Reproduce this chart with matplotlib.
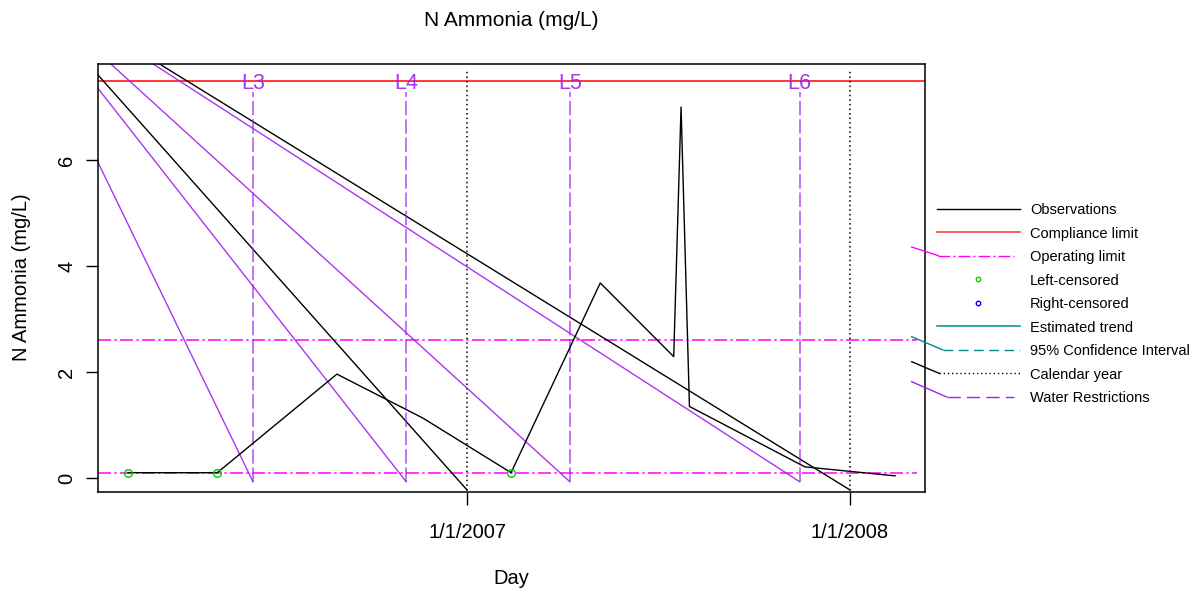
import numpy as np
import pandas as pd
import matplotlib
matplotlib.use('Agg')
import matplotlib.pyplot as plt
import matplotlib.dates as mdates
from matplotlib.lines import Line2D

plt.rcParams['font.family'] = ['Liberation Sans', 'DejaVu Sans']

# --- data ---
obs_dates = ['2006-02-12', '2006-05-08', '2006-08-30', '2006-11-20', '2007-02-12',
             '2007-05-08', '2007-07-17', '2007-07-24', '2007-08-01', '2007-11-19',
             '2008-02-13']
obs_values = [0.1, 0.1, 1.96, 1.13, 0.1, 3.68, 2.29, 7.0, 1.35, 0.21, 0.04]
left_censored = [True, True, False, False, True, False, False, False, False, False, False]

compliance_limit = 7.5
operating_limits = [2.6, 0.1]
operating_end = '2008-03-05'

restriction_dates = ['2006-06-11', '2006-11-04', '2007-04-09', '2007-11-14']
restriction_labels = ['L3', 'L4', 'L5', 'L6']
restriction_low = -0.07
restriction_high = 7.28
restriction_label_y = 7.45

calendar_years = ['2007-01-01', '2008-01-01']
calendar_top = 7.72
calendar_low = -0.226

# stray connector segments (start point of each, ending at the bottom of a vertical line)
calendar_link_start_dates = ['2006-01-10', '2006-03-01']
calendar_link_start_values = [7.70, 7.97]
restriction_link_start_dates = ['2006-01-10', '2006-01-10', '2006-01-10', '2006-03-01']
restriction_link_start_values = [6.13, 7.46, 8.11, 7.90]

xlim_dates = ['2006-01-14 14:00', '2008-03-12 12:00']
ylim = (-0.255, 7.806)

legend_labels = ['Observations', 'Compliance limit', 'Operating limit', 'Left-censored',
                 'Right-censored', 'Estimated trend', '95% Confidence Interval',
                 'Calendar year', 'Water Restrictions']

W, H = 1198, 595
PURPLE = '#A020F0'
MAGENTA = '#FF00FF'
TEAL = '#008B8B'
GREEN = '#00CC00'

def d(s):
    return mdates.date2num(pd.to_datetime(s))

def fx(x):
    return x / W

def fy(y):
    return 1 - y / H

fig = plt.figure(figsize=(W / 100, H / 100), dpi=100)
ax = fig.add_axes([fx(98.3), fy(491.5), (925 - 98.3) / W, (491.5 - 64.3) / H])

xd = [d(s) for s in obs_dates]

# limits
ax.axhline(compliance_limit, color='red', lw=1.1)
for lim in operating_limits:
    ax.plot([d(xlim_dates[0]), d(operating_end)], [lim, lim], color=MAGENTA, lw=1.1,
            linestyle=(0, (8.5, 2.2, 1.5, 2.2)))

# calendar years
for cy, sx, sy in zip(calendar_years, calendar_link_start_dates, calendar_link_start_values):
    ax.plot([d(cy), d(cy)], [calendar_low - 0.1, calendar_top], color='black', lw=1.1,
            linestyle=(0, (1, 2)))
    ax.plot([d(sx), d(cy)], [sy, calendar_low], color='black', lw=1)

# water restrictions
for rd, lab, sx, sy in zip(restriction_dates, restriction_labels,
                           restriction_link_start_dates, restriction_link_start_values):
    ax.plot([d(rd), d(rd)], [restriction_low, restriction_high], color=PURPLE, alpha=0.8,
            lw=1.1, linestyle=(0, (9.5, 2.5)))
    ax.plot([d(sx), d(rd)], [sy, restriction_low], color=PURPLE, alpha=0.9, lw=1)
    ax.text(d(rd), restriction_label_y, lab, color=PURPLE, alpha=0.9, fontsize=15.5,
            ha='center', va='center')

# observations
ax.plot(xd, obs_values, color='black', lw=1)
cx = [x for x, c in zip(xd, left_censored) if c]
cy_ = [v for v, c in zip(obs_values, left_censored) if c]
ax.plot(cx, cy_, linestyle='none', marker='o', ms=5.5, mfc='none', mec=GREEN, mew=1)

ax.set_xlim(d(xlim_dates[0]), d(xlim_dates[1]))
ax.set_ylim(*ylim)
ax.set_xticks([d(s) for s in calendar_years])
ax.set_xticklabels(['1/1/2007', '1/1/2008'])
ax.set_yticks([0, 2, 4, 6])
ax.set_yticklabels(['0', '2', '4', '6'], rotation=90, va='center')
ax.tick_params(axis='both', direction='out', length=9, width=1, labelsize=14.5, color='black')
ax.tick_params(axis='x', pad=14)
ax.tick_params(axis='y', pad=7)
for sp in ax.spines.values():
    sp.set_linewidth(1.1)
    sp.set_color('black')

fig.text(fx(511.7), fy(20), 'N Ammonia (mg/L)', fontsize=15, ha='center', va='center')
fig.text(fx(511.7), fy(578), 'Day', fontsize=14.5, ha='center', va='center')
fig.text(fx(22), fy(277.5), 'N Ammonia (mg/L)', fontsize=14.5, ha='center', va='center',
         rotation=90)

# legend, drawn by hand outside the axes
row_y = [208.5 + 23.56 * i for i in range(len(legend_labels))]
x0, x1 = 937, 1020

def fline(xs, ys, **kw):
    fig.add_artist(Line2D([fx(x) for x in xs], [fy(y) for y in ys],
                          transform=fig.transFigure, **kw))

fline([x0, x1], [row_y[0]] * 2, color='black', lw=1)
fline([x0, x1], [row_y[1]] * 2, color='#FF4040', lw=1.2)
fline([911.7, 938.3], [247, row_y[2]], color=MAGENTA, lw=1)
fline([938.3, 1014], [row_y[2]] * 2, color=MAGENTA, lw=1, linestyle=(0, (8.5, 2.2, 1.5, 2.2)))
fig.add_artist(Line2D([fx(977.7)], [fy(row_y[3])], transform=fig.transFigure,
                      marker='o', ms=3.2, mfc='none', mec=GREEN, mew=1))
fig.add_artist(Line2D([fx(977.7)], [fy(row_y[4])], transform=fig.transFigure,
                      marker='o', ms=3.2, mfc='none', mec='blue', mew=1))
fline([x0, x1], [row_y[5]] * 2, color=TEAL, lw=1.1)
fline([911.7, 942.7], [336.7, row_y[6]], color=TEAL, lw=1)
fline([942.7, 1020], [row_y[6]] * 2, color=TEAL, lw=1, linestyle=(0, (7, 4)))
fline([911.7, 939.3], [361.7, row_y[7]], color='black', lw=1)
fline([939.3, 1020], [row_y[7]] * 2, color='black', lw=1, linestyle=(0, (1, 2)))
fline([911.7, 946.7], [381.7, row_y[8]], color=PURPLE, lw=1)
fline([946.7, 1014], [row_y[8]] * 2, color=PURPLE, lw=1, linestyle=(0, (9.5, 4.5)))

for lab, y in zip(legend_labels, row_y):
    fig.text(fx(1030), fy(y + 1.5), lab, fontsize=10.5, ha='left', va='center')

fig.savefig('out.png', dpi=100)
